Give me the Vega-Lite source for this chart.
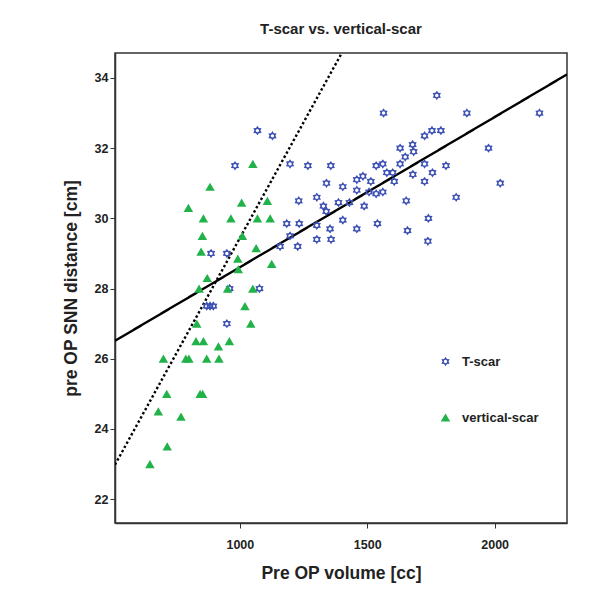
{
  "$schema": "https://vega.github.io/schema/vega-lite/v6.json",
  "width": 452,
  "height": 470,
  "autosize": {"type": "none"},
  "padding": {"left": 115, "top": 53, "right": 41, "bottom": 75},
  "background": "white",
  "title": {"text": "T-scar vs. vertical-scar", "font": "Liberation Sans", "fontSize": 15, "fontWeight": "bold", "color": "#222", "offset": 16},
  "config": {
    "view": {"stroke": "#333", "strokeWidth": 1.5},
    "axis": {"labelFont": "Liberation Sans", "labelFontSize": 12.5, "labelFontWeight": "bold", "labelColor": "#222", "titleFont": "Liberation Sans", "titleFontSize": 17.5, "titleFontWeight": "bold", "titleColor": "#222", "grid": false, "domainColor": "#333", "tickColor": "#333", "tickSize": 5, "domainWidth": 1.5, "tickWidth": 1}
  },
  "datasets": {
    "points": [
      {"vol": 981, "snn": 31.5, "series": "T-scar"},
      {"vol": 887, "snn": 29.0, "series": "T-scar"},
      {"vol": 949, "snn": 29.0, "series": "T-scar"},
      {"vol": 960, "snn": 28.0, "series": "T-scar"},
      {"vol": 1077, "snn": 28.0, "series": "T-scar"},
      {"vol": 870, "snn": 27.5, "series": "T-scar"},
      {"vol": 883, "snn": 27.5, "series": "T-scar"},
      {"vol": 896, "snn": 27.5, "series": "T-scar"},
      {"vol": 949, "snn": 27.0, "series": "T-scar"},
      {"vol": 1564, "snn": 33.0, "series": "T-scar"},
      {"vol": 1069, "snn": 32.5, "series": "T-scar"},
      {"vol": 1128, "snn": 32.35, "series": "T-scar"},
      {"vol": 1629, "snn": 32.0, "series": "T-scar"},
      {"vol": 1197, "snn": 31.55, "series": "T-scar"},
      {"vol": 1267, "snn": 31.5, "series": "T-scar"},
      {"vol": 1357, "snn": 31.5, "series": "T-scar"},
      {"vol": 1535, "snn": 31.5, "series": "T-scar"},
      {"vol": 1561, "snn": 31.55, "series": "T-scar"},
      {"vol": 1629, "snn": 31.55, "series": "T-scar"},
      {"vol": 1577, "snn": 31.3, "series": "T-scar"},
      {"vol": 1600, "snn": 31.3, "series": "T-scar"},
      {"vol": 1606, "snn": 31.05, "series": "T-scar"},
      {"vol": 1483, "snn": 31.2, "series": "T-scar"},
      {"vol": 1459, "snn": 31.1, "series": "T-scar"},
      {"vol": 1514, "snn": 31.05, "series": "T-scar"},
      {"vol": 1340, "snn": 31.0, "series": "T-scar"},
      {"vol": 1404, "snn": 30.9, "series": "T-scar"},
      {"vol": 1459, "snn": 30.8, "series": "T-scar"},
      {"vol": 1535, "snn": 30.7, "series": "T-scar"},
      {"vol": 1561, "snn": 30.75, "series": "T-scar"},
      {"vol": 1507, "snn": 30.75, "series": "T-scar"},
      {"vol": 1231, "snn": 30.5, "series": "T-scar"},
      {"vol": 1302, "snn": 30.6, "series": "T-scar"},
      {"vol": 1328, "snn": 30.35, "series": "T-scar"},
      {"vol": 1339, "snn": 30.2, "series": "T-scar"},
      {"vol": 1387, "snn": 30.45, "series": "T-scar"},
      {"vol": 1430, "snn": 30.45, "series": "T-scar"},
      {"vol": 1488, "snn": 30.35, "series": "T-scar"},
      {"vol": 1184, "snn": 29.85, "series": "T-scar"},
      {"vol": 1233, "snn": 29.85, "series": "T-scar"},
      {"vol": 1302, "snn": 29.8, "series": "T-scar"},
      {"vol": 1404, "snn": 29.95, "series": "T-scar"},
      {"vol": 1354, "snn": 29.7, "series": "T-scar"},
      {"vol": 1459, "snn": 29.7, "series": "T-scar"},
      {"vol": 1540, "snn": 29.85, "series": "T-scar"},
      {"vol": 1197, "snn": 29.5, "series": "T-scar"},
      {"vol": 1302, "snn": 29.4, "series": "T-scar"},
      {"vol": 1358, "snn": 29.4, "series": "T-scar"},
      {"vol": 1227, "snn": 29.2, "series": "T-scar"},
      {"vol": 1158, "snn": 29.2, "series": "T-scar"},
      {"vol": 1773, "snn": 33.5, "series": "T-scar"},
      {"vol": 1891, "snn": 33.0, "series": "T-scar"},
      {"vol": 2176, "snn": 33.0, "series": "T-scar"},
      {"vol": 1754, "snn": 32.5, "series": "T-scar"},
      {"vol": 1789, "snn": 32.5, "series": "T-scar"},
      {"vol": 1725, "snn": 32.35, "series": "T-scar"},
      {"vol": 1678, "snn": 32.1, "series": "T-scar"},
      {"vol": 1682, "snn": 31.9, "series": "T-scar"},
      {"vol": 1649, "snn": 31.75, "series": "T-scar"},
      {"vol": 1976, "snn": 32.0, "series": "T-scar"},
      {"vol": 1725, "snn": 31.55, "series": "T-scar"},
      {"vol": 1679, "snn": 31.25, "series": "T-scar"},
      {"vol": 1756, "snn": 31.3, "series": "T-scar"},
      {"vol": 1809, "snn": 31.5, "series": "T-scar"},
      {"vol": 1725, "snn": 31.05, "series": "T-scar"},
      {"vol": 2022, "snn": 31.0, "series": "T-scar"},
      {"vol": 1653, "snn": 30.5, "series": "T-scar"},
      {"vol": 1849, "snn": 30.6, "series": "T-scar"},
      {"vol": 1740, "snn": 30.0, "series": "T-scar"},
      {"vol": 1658, "snn": 29.65, "series": "T-scar"},
      {"vol": 1738, "snn": 29.35, "series": "T-scar"},
      {"vol": 1051, "snn": 31.55, "series": "vertical-scar"},
      {"vol": 883, "snn": 30.9, "series": "vertical-scar"},
      {"vol": 798, "snn": 30.3, "series": "vertical-scar"},
      {"vol": 1007, "snn": 30.45, "series": "vertical-scar"},
      {"vol": 1108, "snn": 30.5, "series": "vertical-scar"},
      {"vol": 857, "snn": 30.0, "series": "vertical-scar"},
      {"vol": 965, "snn": 30.0, "series": "vertical-scar"},
      {"vol": 1069, "snn": 30.0, "series": "vertical-scar"},
      {"vol": 1119, "snn": 30.0, "series": "vertical-scar"},
      {"vol": 853, "snn": 29.5, "series": "vertical-scar"},
      {"vol": 1010, "snn": 29.5, "series": "vertical-scar"},
      {"vol": 848, "snn": 29.05, "series": "vertical-scar"},
      {"vol": 1064, "snn": 29.15, "series": "vertical-scar"},
      {"vol": 992, "snn": 28.85, "series": "vertical-scar"},
      {"vol": 1125, "snn": 28.7, "series": "vertical-scar"},
      {"vol": 994, "snn": 28.55, "series": "vertical-scar"},
      {"vol": 872, "snn": 28.3, "series": "vertical-scar"},
      {"vol": 840, "snn": 28.0, "series": "vertical-scar"},
      {"vol": 952, "snn": 28.0, "series": "vertical-scar"},
      {"vol": 1051, "snn": 28.0, "series": "vertical-scar"},
      {"vol": 1020, "snn": 27.5, "series": "vertical-scar"},
      {"vol": 831, "snn": 27.0, "series": "vertical-scar"},
      {"vol": 1043, "snn": 27.0, "series": "vertical-scar"},
      {"vol": 828, "snn": 26.5, "series": "vertical-scar"},
      {"vol": 857, "snn": 26.5, "series": "vertical-scar"},
      {"vol": 959, "snn": 26.5, "series": "vertical-scar"},
      {"vol": 916, "snn": 26.35, "series": "vertical-scar"},
      {"vol": 700, "snn": 26.0, "series": "vertical-scar"},
      {"vol": 788, "snn": 26.0, "series": "vertical-scar"},
      {"vol": 800, "snn": 26.0, "series": "vertical-scar"},
      {"vol": 870, "snn": 26.0, "series": "vertical-scar"},
      {"vol": 918, "snn": 26.0, "series": "vertical-scar"},
      {"vol": 713, "snn": 25.0, "series": "vertical-scar"},
      {"vol": 844, "snn": 25.0, "series": "vertical-scar"},
      {"vol": 854, "snn": 25.0, "series": "vertical-scar"},
      {"vol": 680, "snn": 24.5, "series": "vertical-scar"},
      {"vol": 769, "snn": 24.35, "series": "vertical-scar"},
      {"vol": 715, "snn": 23.5, "series": "vertical-scar"},
      {"vol": 647, "snn": 23.0, "series": "vertical-scar"}
    ],
    "lines": [
      {"vol": 510, "snn": 26.51, "fit": "T-scar fit"},
      {"vol": 2284, "snn": 34.10, "fit": "T-scar fit"},
      {"vol": 510, "snn": 22.98, "fit": "vertical-scar fit"},
      {"vol": 1400, "snn": 34.71, "fit": "vertical-scar fit"}
    ]
  },
  "layer": [
    {
      "data": {"name": "lines"},
      "mark": {"type": "line", "color": "black", "strokeWidth": 2.4, "clip": true},
      "encoding": {
        "x": {"field": "vol", "type": "quantitative", "scale": {"domain": [510, 2284], "nice": false, "zero": false}, "axis": {"values": [1000, 1500, 2000], "format": "d", "title": "Pre OP volume [cc]", "labelPadding": 10, "titlePadding": 14}},
        "y": {"field": "snn", "type": "quantitative", "scale": {"domain": [21.32, 34.71], "nice": false, "zero": false}, "axis": {"values": [22, 24, 26, 28, 30, 32, 34], "title": "pre OP SNN distance [cm]", "labelPadding": 2, "titlePadding": 14}},
        "detail": {"field": "fit"},
        "strokeDash": {"field": "fit", "type": "nominal", "scale": {"domain": ["T-scar fit", "vertical-scar fit"], "range": [[1, 0], [2.4, 2.4]]}, "legend": null}
      }
    },
    {
      "data": {"name": "points"},
      "mark": {"type": "point", "filled": true, "opacity": 1, "size": 90, "strokeWidth": 0},
      "encoding": {
        "x": {"field": "vol", "type": "quantitative"},
        "y": {"field": "snn", "type": "quantitative"},
        "color": {"field": "series", "type": "nominal", "scale": {"domain": ["T-scar", "vertical-scar"], "range": ["#3d50b4", "#22b24a"]}, "legend": {"title": null, "orient": "none", "legendX": 324, "legendY": 302, "labelFont": "Liberation Sans", "labelFontSize": 13, "labelFontWeight": "bold", "labelColor": "#222", "rowPadding": 42, "symbolSize": 90, "symbolStrokeWidth": 0, "labelOffset": 10}},
        "shape": {"field": "series", "type": "nominal", "scale": {"domain": ["T-scar", "vertical-scar"], "range": ["M0,-1L0.3,-0.55L0.87,-0.5L0.63,0L0.87,0.5L0.3,0.55L0,1L-0.3,0.55L-0.87,0.5L-0.63,0L-0.87,-0.5L-0.3,-0.55Z M0.35,0A0.35,0.35 0 1,0 -0.35,0A0.35,0.35 0 1,0 0.35,0Z", "triangle-up"]}}
      }
    }
  ]
}
